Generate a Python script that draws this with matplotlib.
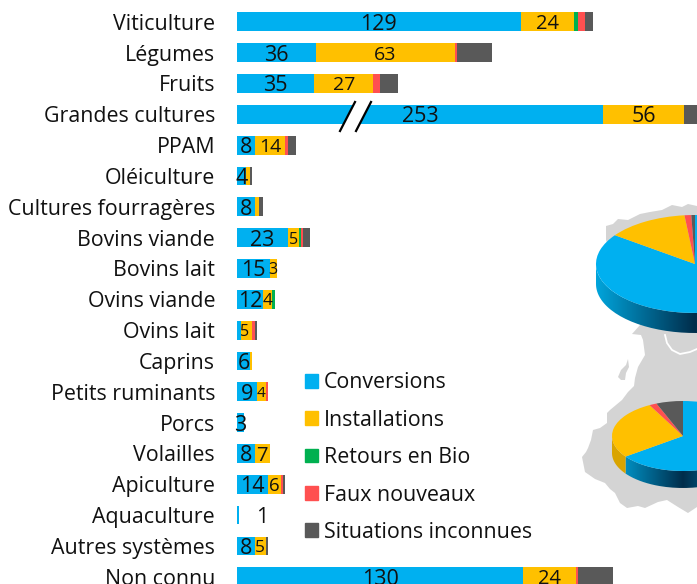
import numpy as np
import matplotlib
matplotlib.use("Agg")
import matplotlib.pyplot as plt
from matplotlib.patches import Patch, Polygon, PathPatch
from matplotlib.path import Path

plt.rcParams['font.family'] = ['Open Sans', 'DejaVu Sans']

categories = ["Viticulture", "Légumes", "Fruits", "Grandes cultures", "PPAM", "Oléiculture",
              "Cultures fourragères", "Bovins viande", "Bovins lait", "Ovins viande", "Ovins lait",
              "Caprins", "Petits ruminants", "Porcs", "Volailles", "Apiculture", "Aquaculture",
              "Autres systèmes", "Non connu"]
conversions = [129, 36, 35, 253, 8, 4, 8, 23, 15, 12, 2, 6, 9, 3, 8, 14, 1, 8, 130]
installations = [24, 63, 27, 56, 14, 2, 2, 5, 3, 4, 5, 0.9, 4, 0, 7, 6, 0, 5, 24]
retours = [2, 0, 0, 0, 0, 0, 0, 1.2, 0, 1.2, 0, 0, 0, 0, 0, 0, 0, 0, 0]
faux = [3, 1, 3, 0, 1, 0, 0, 1, 0, 0, 1.4, 0, 1, 0, 0, 1, 0, 0, 1]
inconnues = [4, 16, 8, 12, 4, 1, 2, 3.2, 0, 0, 0.8, 0, 0, 0, 0, 1, 0, 1, 16]

conv_labels = ["129", "36", "35", "253", "8", "4", "8", "23", "15", "12", "", "6", "9", "3", "8", "14", "1", "8", "130"]
inst_labels = ["24", "63", "27", "56", "14", "", "", "5", "3", "4", "5", "", "4", "", "7", "6", "", "5", "24"]
inst_sizes = [14.5, 14, 14, 15.5, 14, 11, 11, 11.5, 11.5, 12.5, 11.5, 11, 11, 11, 14.5, 13.5, 11, 12.5, 14.5]

series_names = ["Conversions", "Installations", "Retours en Bio", "Faux nouveaux", "Situations inconnues"]
colors = ["#00B0F0", "#FFC000", "#00B050", "#FF5050", "#595959"]

pie_top = [85, 13.3, 0, 1.1, 0.6]
pie_bottom = [65, 27.2, 0, 1.7, 6.1]

W, H = 697, 584
BROKEN_ROW = 3
BROKEN_SCALE = 0.658
PX_PER_UNIT = 2.2

fig = plt.figure(figsize=(W / 100, H / 100), dpi=100)

# background map (pixel space)
axm = fig.add_axes([0, 0, 1, 1], zorder=0)
axm.set_xlim(0, W)
axm.set_ylim(H, 0)
axm.axis('off')
map_outline = [(606, 226), (613, 224), (618, 219), (628, 220), (640, 214), (650, 212), (662, 210), (672, 205),
               (682, 207), (688, 204), (697, 206), (697, 507), (688, 513), (683, 510), (678, 507),
               (667, 500), (658, 502), (645, 508), (638, 506), (627, 508), (620, 503), (615, 493),
               (610, 489), (605, 483), (595, 479), (585, 472), (582, 457), (586, 452), (588, 448),
               (591, 440), (593, 430), (600, 428), (607, 423), (607, 413), (610, 410), (622, 400),
               (628, 392), (634, 386), (635, 378), (638, 367), (645, 355), (643, 340), (641, 335),
               (632, 334), (640, 325), (625, 300), (606, 240)]
axm.add_patch(Polygon(map_outline, closed=True, fc="#D4D4D4", ec="none"))
axm.add_patch(Polygon([(618, 377), (621, 370), (626, 365), (628, 359), (629, 367), (626, 373), (625, 380), (621, 380)],
                      closed=True, fc="#D4D4D4", ec="none"))
axm.plot([665, 667, 672, 680, 690, 697], [335, 343, 350, 354, 352, 349], color="white", lw=1.3)

# bars
left = 237
ax = fig.add_axes([left / W, 0, 1 - left / W, 1], zorder=1)
ax.patch.set_alpha(0)
ax.set_xlim(0, (W - left) / PX_PER_UNIT)
row_px = 30.83
ax.set_ylim((H - 21.8) / row_px, -21.8 / row_px)
y = np.arange(len(categories))
scale = np.ones(len(categories))
scale[BROKEN_ROW] = BROKEN_SCALE
base = np.zeros(len(categories))
for vals, c, name in zip([conversions, installations, retours, faux, inconnues], colors, series_names):
    w = np.array(vals, float) * scale
    ax.barh(y, w, left=base, height=0.61, color=c)
    base = base + w
ax.set_yticks(y, categories, fontsize=15.4, color="#111111")
ax.tick_params(axis='y', length=0, pad=15.8)
ax.set_xticks([])
for s in ax.spines.values():
    s.set_visible(False)

for i, lab in enumerate(conv_labels):
    dx = 17.3 if lab == "1" else 0
    ax.annotate(lab, (conversions[i] * scale[i] / 2, i), xytext=(dx, 0), textcoords='offset points',
                ha='center', va='center_baseline', fontsize=15.5, color="#111111")
for i, lab in enumerate(inst_labels):
    if lab:
        dx = -2 if categories[i] == "Ovins lait" else 0
        ax.annotate(lab, ((conversions[i] + installations[i] / 2) * scale[i], i), xytext=(dx, 0),
                    textcoords='offset points', ha='center', va='center_baseline',
                    fontsize=inst_sizes[i], color="#111111")

# axis-break mark
axo = fig.add_axes([0, 0, 1, 1], zorder=2)
axo.set_xlim(0, W)
axo.set_ylim(H, 0)
axo.axis('off')
axo.patch.set_alpha(0)
axo.add_patch(Polygon([(340, 131), (355, 102), (371, 102), (356, 131)], closed=True, fc="white", ec="none"))
axo.plot([340, 355], [131, 102], color="black", lw=1.6)
axo.plot([356, 371], [131, 102], color="black", lw=1.6)

ax.legend(handles=[Patch(color=c, label=n) for c, n in zip(colors, series_names)],
          loc='upper left', bbox_to_anchor=(299 / W, 1 - 366 / H), bbox_transform=fig.transFigure,
          frameon=False, fontsize=15.4, handlelength=0.61, handleheight=0.61, handletextpad=0.25,
          labelspacing=0.765, labelcolor="#111111", borderpad=0, borderaxespad=0.3)


def pie3d(values, cx, cy, rx, ry, depth, z):
    d = depth / ry
    a = fig.add_axes([(cx - rx) / W, 1 - (cy + ry + depth) / H, 2 * rx / W, (2 * ry + depth) / H], zorder=z)
    a.patch.set_alpha(0)
    fr = np.array(values, float) / sum(values)
    edges = 90 - 360 * np.concatenate([[0], np.cumsum(fr)])
    for i, c in enumerate(colors):
        t0, t1 = edges[i + 1], edges[i]
        if t1 - t0 <= 0:
            continue
        # lower-half portion of the wedge rim (angles may need wrapping by a full turn)
        for shift in (0, -360):
            lo, hi = max(t0 - shift - 360, -180), min(t1 - shift - 360, 0)
            if hi <= lo:
                continue
            t = np.radians(np.linspace(lo, hi, 80))
            xy = np.r_[np.c_[np.cos(t), np.sin(t)], np.c_[np.cos(t[::-1]), np.sin(t[::-1]) - d]]
            patch = PathPatch(Path(np.r_[xy, xy[:1]]), fc='none', ec='none')
            a.add_patch(patch)
            if i == 0:
                ramp = np.linspace(0, 1, 256)[None, :, None]
                img = (np.array([0, 165, 220]) * (1 - ramp) + np.array([0, 45, 75]) * ramp) / 255
                im = a.imshow(img, extent=(-1, 0, -1 - d, 1), aspect='auto', zorder=1)
                im2 = a.imshow(img[:, ::-1], extent=(0, 1, -1 - d, 1), aspect='auto', zorder=1)
                im.set_clip_path(patch)
                im2.set_clip_path(patch)
            else:
                patch.set_facecolor("#D9A400" if i == 1 else c)
    a.pie(values, colors=colors, startangle=90, counterclock=False, radius=1,
          wedgeprops=dict(lw=0, zorder=3))
    a.set_aspect('auto')
    a.set_xlim(-1, 1)
    a.set_ylim(-1 - d, 1)
    a.axis('off')


pie3d(pie_top, 695, 264, 99, 49, 20, 3)
pie3d(pie_bottom, 683, 436, 71, 35, 17, 3)

fig.savefig("out.png", dpi=100)
